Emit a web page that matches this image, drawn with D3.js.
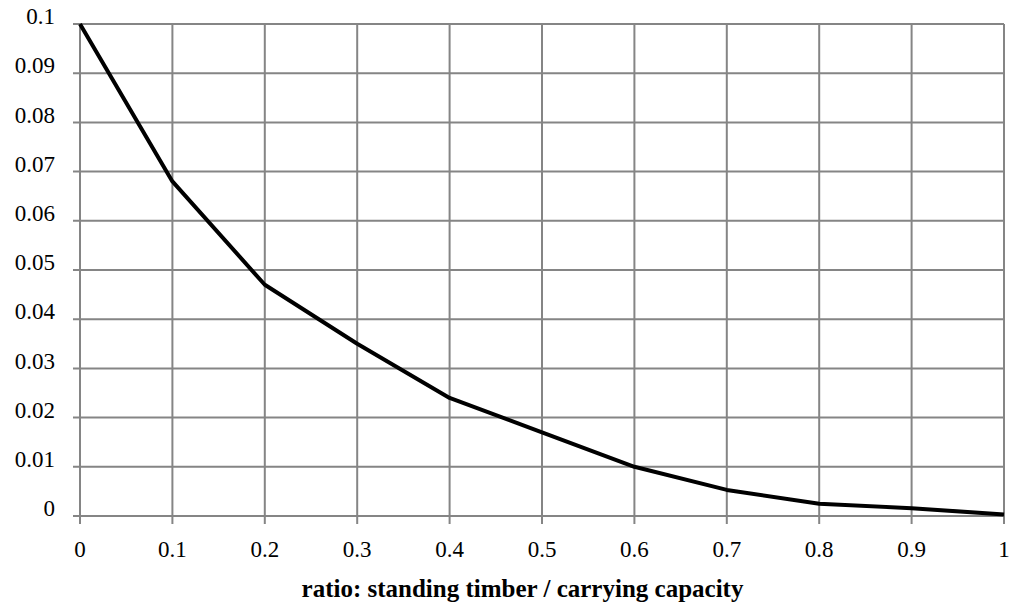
<!DOCTYPE html>
<html>
<head>
<meta charset="utf-8">
<script src="https://cdn.jsdelivr.net/npm/d3@7"></script>
<style>
  html, body { margin: 0; padding: 0; background: #fff; }
  svg { display: block; }
  text { font-family: "Liberation Serif", "Times New Roman", serif; fill: #000; }
</style>
</head>
<body>
<svg id="chart" width="1010" height="604"></svg>
<script>
const xValues = [0, 0.1, 0.2, 0.3, 0.4, 0.5, 0.6, 0.7, 0.8, 0.9, 1];
const yValues = [0.1, 0.068, 0.047, 0.035, 0.024, 0.017, 0.010, 0.0053, 0.0025, 0.0016, 0.0003];
const xTickValues = [0, 0.1, 0.2, 0.3, 0.4, 0.5, 0.6, 0.7, 0.8, 0.9, 1];
const yTickValues = [0, 0.01, 0.02, 0.03, 0.04, 0.05, 0.06, 0.07, 0.08, 0.09, 0.1];
const xTitle = "ratio: standing timber / carrying capacity";

(function () {
const svg = d3.select("#chart");
const mLeft = 80, mRight = 1004, mTop = 24, mBottom = 516;

const x = d3.scaleLinear().domain([0, 1]).range([mLeft, mRight]);
const y = d3.scaleLinear().domain([0, 0.1]).range([mBottom, mTop]);
const fmt = d => String(+d.toFixed(2));

const gridColor = "#858585";
svg.append("g")
  .selectAll("line").data(yTickValues).join("line")
  .attr("x1", mLeft - 7).attr("x2", mRight)
  .attr("y1", d => y(d)).attr("y2", d => y(d))
  .attr("stroke", gridColor).attr("stroke-width", 2);

svg.append("g")
  .selectAll("line").data(xTickValues).join("line")
  .attr("x1", d => x(d)).attr("x2", d => x(d))
  .attr("y1", mTop).attr("y2", mBottom + 8)
  .attr("stroke", gridColor).attr("stroke-width", 2);

svg.append("g")
  .selectAll("text").data(yTickValues).join("text")
  .attr("x", 55).attr("y", d => y(d) - 5)
  .attr("text-anchor", "end").attr("dominant-baseline", "middle")
  .attr("font-size", 23)
  .text(d => fmt(d));

svg.append("g")
  .selectAll("text").data(xTickValues).join("text")
  .attr("x", d => x(d)).attr("y", 557)
  .attr("text-anchor", "middle")
  .attr("font-size", 23)
  .text(d => fmt(d));

svg.append("text")
  .attr("x", (298 + 747) / 2).attr("y", 597)
  .attr("text-anchor", "middle")
  .attr("font-size", 25).attr("font-weight", "bold")
  .text(xTitle);

const pts = xValues.map((v, i) => [v, yValues[i]]);
svg.append("path")
  .datum(pts)
  .attr("fill", "none").attr("stroke", "#000").attr("stroke-width", 4)
  .attr("stroke-linejoin", "round")
  .attr("d", d3.line().x(d => x(d[0])).y(d => y(d[1])));
})();
</script>
</body>
</html>
